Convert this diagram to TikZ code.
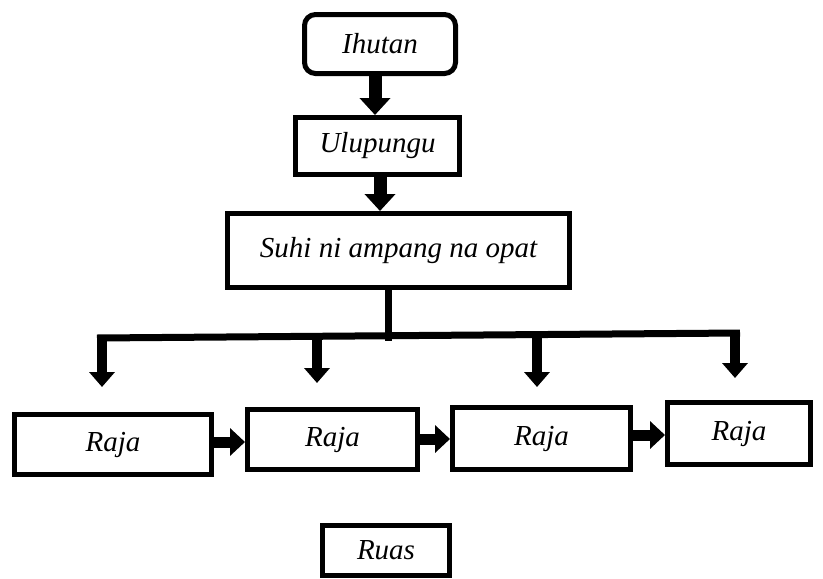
\documentclass[tikz,border=0pt]{standalone}
\usepackage{fontspec}
\setmainfont{Liberation Serif}
\usetikzlibrary{arrows.meta}
\tikzset{
  box/.style={draw=black, line width=5pt, fill=white, inner sep=0pt,
    font=\fontsize{29}{34}\selectfont\itshape},
  bigarrow/.style={line width=13pt, -{Triangle[width=30pt,length=17pt]}},
  midarrow/.style={line width=11pt, -{Triangle[width=27pt,length=15pt]}},
  smallarrow/.style={line width=10pt, -{Triangle[width=25pt,length=15pt]}},
  bar/.style={line width=7pt},
}
\begin{document}
\begin{tikzpicture}[x=1pt,y=-1pt]
\useasboundingbox[fill=white] (0,0) rectangle (823,579);
\node[box, rounded corners=11pt, minimum width=151pt, minimum height=59pt] (ihutan) at (380,44) {Ihutan};
\node[box, minimum width=164pt, minimum height=57pt] (ulu) at (377.5,146) {Ulupungu};
\node[box, minimum width=342pt, minimum height=74pt] (suhi) at (398.5,250.5) {Suhi ni ampang na opat};
\node[box, minimum width=197pt, minimum height=60pt] (raja1) at (113,444.5) {Raja};
\node[box, minimum width=170pt, minimum height=60pt] (raja2) at (332.5,439.5) {Raja};
\node[box, minimum width=178pt, minimum height=62pt] (raja3) at (541.5,438.5) {Raja};
\node[box, minimum width=143pt, minimum height=62pt] (raja4) at (739,433.5) {Raja};
\node[box, minimum width=127pt, minimum height=50pt] (ruas) at (386,550.5) {Ruas};

\coordinate (barM) at (388,337);
\coordinate (barL) at (97,338);
\coordinate (barR) at (740,333);
\coordinate (b1) at (102,337.8);
\coordinate (b2) at (317,336.2);
\coordinate (b3) at (537,334.5);
\coordinate (b4) at (735,333);
\coordinate (t1) at (102,387);
\coordinate (t2) at (317,383);
\coordinate (t3) at (537,387);
\coordinate (t4) at (735,378);

\draw[bigarrow] (ihutan.south -| 375,0) -- (ulu.north -| 375,0);
\draw[bigarrow] (ulu.south -| 380,0) -- (suhi.north -| 380,0);
\draw[bar] (suhi.south -| barM) -- ([yshift=-3.5pt]barM);
\draw[bar] (barL) -- (barR);
\draw[smallarrow] (b1) -- (t1);
\draw[smallarrow] (b2) -- (t2);
\draw[smallarrow] (b3) -- (t3);
\draw[smallarrow] (b4) -- (t4);
\draw[midarrow] (raja1.east |- 0,442) -- (raja2.west |- 0,442);
\draw[midarrow] (raja2.east |- 0,439) -- (raja3.west |- 0,439);
\draw[midarrow] (raja3.east |- 0,435) -- (raja4.west |- 0,435);
\end{tikzpicture}
\end{document}
